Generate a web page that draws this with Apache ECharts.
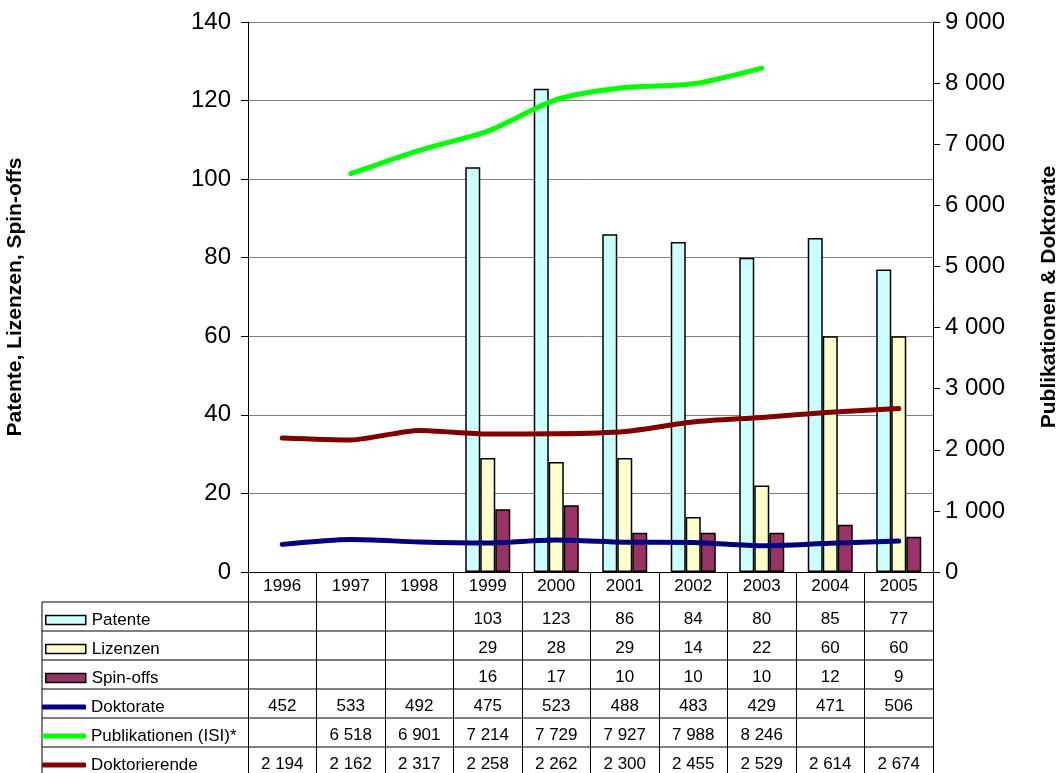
<!DOCTYPE html>
<html lang="de">
<head>
  <meta charset="UTF-8">
  <title>Patente, Lizenzen, Spin-offs</title>
  <style>
    html, body { margin: 0; padding: 0; width: 100%; height: 100%; background: #fff; }
    #main { width: 1064px; height: 773px; }
  </style>
</head>
<body>
  <div id="main"></div>
  <script src="https://cdn.jsdelivr.net/npm/echarts@6/dist/echarts.min.js"></script>
  <script type="text/javascript">
    // Daten
    const years = ['1996', '1997', '1998', '1999', '2000', '2001', '2002', '2003', '2004', '2005'];
    const patente = [null, null, null, 103, 123, 86, 84, 80, 85, 77];
    const lizenzen = [null, null, null, 29, 28, 29, 14, 22, 60, 60];
    const spinoffs = [null, null, null, 16, 17, 10, 10, 10, 12, 9];
    const doktorate = [452, 533, 492, 475, 523, 488, 483, 429, 471, 506];
    const publikationen = [null, 6518, 6901, 7214, 7729, 7927, 7988, 8246, null, null];
    const doktorierende = [2194, 2162, 2317, 2258, 2262, 2300, 2455, 2529, 2614, 2674];

    const rowNames = ['Patente', 'Lizenzen', 'Spin-offs', 'Doktorate', 'Publikationen (ISI)*', 'Doktorierende'];
    const rowColors = ['#CCFFFF', '#FFFFCC', '#993366', '#000080', '#00FF00', '#800000'];
    const rowData = [patente, lizenzen, spinoffs, doktorate, publikationen, doktorierende];

    const font = 'Liberation Sans, Arial, sans-serif';
    const plotLeft = 248, plotRight = 933, plotTop = 22, plotBottom = 572;
    const tableLeft = 42, tableTop = 602, rowH = 29;

    // Zahlen mit Leerzeichen als Tausendertrenner
    function fmt(v) {
      if (v === null || v === undefined) return '';
      return String(v).replace(/\B(?=(\d{3})+(?!\d))/g, ' ');
    }

    const grids = [{
      left: plotLeft, right: 1064 - plotRight, top: plotTop, height: plotBottom - plotTop,
      containLabel: false, outerBoundsMode: 'none'
    }];
    const xAxes = [{
      type: 'category',
      gridIndex: 0,
      data: years,
      boundaryGap: true,
      axisLine: { lineStyle: { color: '#000', width: 1 } },
      axisTick: { show: true, interval: 0, length: 773 - plotBottom, lineStyle: { color: '#000', width: 1 } },
      axisLabel: { interval: 0, color: '#000', fontSize: 17, fontFamily: font, margin: 6 },
      splitLine: { show: false }
    }];
    const yAxes = [{
      type: 'value',
      gridIndex: 0,
      min: 0, max: 140, interval: 20,
      name: 'Patente, Lizenzen, Spin-offs',
      nameLocation: 'middle',
      nameRotate: 90,
      nameGap: 222,
      nameTextStyle: { color: '#000', fontSize: 21, fontWeight: 'bold', fontFamily: font },
      axisLine: { show: true, lineStyle: { color: '#000', width: 1 } },
      axisTick: { show: true, length: 7, lineStyle: { color: '#000' } },
      axisLabel: { color: '#000', fontSize: 24, fontFamily: font, margin: 17 },
      splitLine: { show: true, lineStyle: { color: '#808080', width: 1 } }
    }, {
      type: 'value',
      gridIndex: 0,
      position: 'right',
      min: 0, max: 9000, interval: 1000,
      name: 'Publikationen & Doktorate',
      nameLocation: 'middle',
      nameRotate: 90,
      nameGap: 106,
      nameTextStyle: { color: '#000', fontSize: 21, fontWeight: 'bold', fontFamily: font },
      axisLine: { show: true, lineStyle: { color: '#000', width: 1 } },
      axisTick: { show: true, length: 7, lineStyle: { color: '#000' } },
      axisLabel: { color: '#000', fontSize: 24, fontFamily: font, margin: 12, formatter: fmt },
      splitLine: { show: false }
    }];

    // Tabellenzeilen: je eine Kategorieachse pro Zeile
    rowData.forEach(function (row, i) {
      grids.push({
        left: plotLeft, right: 1064 - plotRight, top: tableTop + rowH * i, height: rowH,
        containLabel: false, outerBoundsMode: 'none'
      });
      xAxes.push({
        type: 'category',
        gridIndex: i + 1,
        data: years,
        axisLine: { show: false },
        axisTick: { show: false },
        splitLine: { show: false },
        axisLabel: {
          inside: true, interval: 0, margin: 3,
          color: '#000', fontSize: 17, fontFamily: font,
          formatter: function (v, idx) { return fmt(row[idx]); }
        }
      });
      yAxes.push({ type: 'value', gridIndex: i + 1, show: false });
    });

    // Tabellenlinien
    const graphics = [];
    for (let i = 0; i < 6; i++) {
      const y = tableTop + rowH * i;
      graphics.push({ type: 'line', shape: { x1: tableLeft, y1: y, x2: plotRight, y2: y }, style: { stroke: '#000', lineWidth: 1 }, z: 1 });
    }
    graphics.push({ type: 'line', shape: { x1: tableLeft, y1: tableTop, x2: tableLeft, y2: 773 }, style: { stroke: '#000', lineWidth: 1 }, z: 1 });

    const barStyle = function (c) { return { color: c, borderColor: '#000', borderWidth: 1.5 }; };
    const lineStyle = function (c) { return { color: c, width: 5, cap: 'round', join: 'round' }; };

    // Legende in der Tabelle, eine pro Zeile
    const legends = rowNames.map(function (n, i) {
      const isBar = i < 3;
      return {
        data: [{
          name: n,
          icon: isBar ? 'rect' : 'roundRect',
          itemStyle: isBar
            ? { color: rowColors[i], borderColor: '#000', borderWidth: 1.5 }
            : { color: rowColors[i], borderWidth: 0 }
        }],
        left: isBar ? 45 : 42,
        top: tableTop + rowH * i + 9,
        padding: 0,
        itemWidth: isBar ? 40 : 44,
        itemHeight: isBar ? 9 : 5,
        itemGap: 4,
        selectedMode: false,
        textStyle: { color: '#000', fontSize: 17, lineHeight: 18, fontFamily: font, padding: isBar ? [0, 0, 0, 1] : [0, 0, 0, 0] }
      };
    });

    const option = {
      backgroundColor: '#fff',
      animation: false,
      grid: grids,
      xAxis: xAxes,
      yAxis: yAxes,
      legend: legends,
      graphic: graphics,
      series: [
        { name: 'Patente', type: 'bar', xAxisIndex: 0, yAxisIndex: 0, data: patente, barWidth: 15, barGap: '0%', itemStyle: barStyle(rowColors[0]) },
        { name: 'Lizenzen', type: 'bar', xAxisIndex: 0, yAxisIndex: 0, data: lizenzen, barWidth: 15, barGap: '0%', itemStyle: barStyle(rowColors[1]) },
        { name: 'Spin-offs', type: 'bar', xAxisIndex: 0, yAxisIndex: 0, data: spinoffs, barWidth: 15, barGap: '0%', itemStyle: barStyle(rowColors[2]) },
        { name: 'Doktorate', type: 'line', xAxisIndex: 0, yAxisIndex: 1, data: doktorate, smooth: 0.25, symbol: 'none', itemStyle: { color: rowColors[3] }, lineStyle: lineStyle(rowColors[3]), z: 5 },
        { name: 'Publikationen (ISI)*', type: 'line', xAxisIndex: 0, yAxisIndex: 1, data: publikationen, smooth: 0.25, symbol: 'none', itemStyle: { color: rowColors[4] }, lineStyle: lineStyle(rowColors[4]), z: 5 },
        { name: 'Doktorierende', type: 'line', xAxisIndex: 0, yAxisIndex: 1, data: doktorierende, smooth: 0.25, symbol: 'none', itemStyle: { color: rowColors[5] }, lineStyle: lineStyle(rowColors[5]), z: 5 }
      ]
    };

    const myChart = echarts.init(document.getElementById('main'));
    myChart.setOption(option);
  </script>
</body>
</html>
